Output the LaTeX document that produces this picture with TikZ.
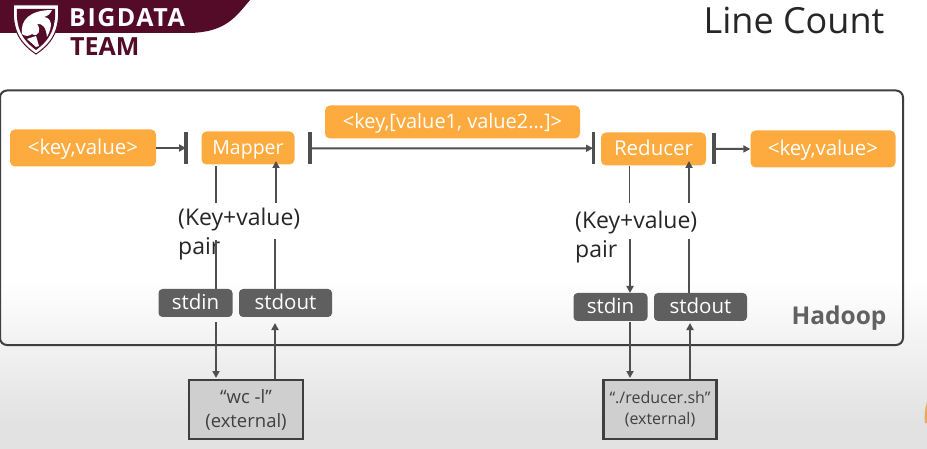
\documentclass[tikz,border=0pt]{standalone}
\usepackage{fontspec}
\setmainfont{Open Sans}
\usetikzlibrary{arrows.meta,calc}
\definecolor{maroon}{HTML}{540B28}
\definecolor{orng}{HTML}{FDAA3E}
\definecolor{dgray}{HTML}{5F5F5F}
\definecolor{lineg}{HTML}{4F4F4F}
\definecolor{frameg}{HTML}{3F3F3F}
\definecolor{bggray}{HTML}{E2E2E2}
\tikzset{
  orangebox/.style={fill=orng,rounded corners=5pt,text=white,inner sep=0pt,text height=15pt,text depth=1pt,font=\fontsize{20.5}{22}\selectfont},
  graybox/.style={fill=dgray,rounded corners=4pt,text=white,inner sep=0pt,text height=14pt,text depth=2pt,font=\fontsize{20.5}{22}\selectfont},
  extbox/.style={draw=frameg,line width=2.2pt,fill=black!19,inner sep=0pt,align=center,text=black!75,font=\fontsize{18.5}{24}\selectfont},
  conn/.style={draw=lineg,line width=2pt},
  arr/.style={conn,-{Triangle[length=7pt,width=7pt]}},
  barline/.style={draw=lineg,line width=3.5pt},
  lbl/.style={inner sep=0pt,align=left,anchor=north west,text=black!85,font=\fontsize{23}{29}\selectfont}
}
\begin{document}
\begin{tikzpicture}[x=1pt,y=-1pt]
\useasboundingbox (0,0) rectangle (927,449);
\fill[white] (0,0) rectangle (927,449);
\fill[top color=white,bottom color=bggray] (0,280) rectangle (927,423);
\fill[bggray] (0,423) rectangle (927,449);
\fill[orng!50!brown!80!white] (927,402) .. controls (925,408) and (924,415) .. (925,423) -- (927,423) -- cycle;
% banner
\fill[maroon] (0,0) -- (250,0) .. controls (235,18) and (225,32) .. (190,33) -- (0,33) -- cycle;
% shield
\filldraw[fill=white,draw=maroon,line width=1pt] (13.5,5) -- (58.5,5) .. controls (60,28) and (54,42) .. (36,54) .. controls (18,42) and (12,28) .. (13.5,5) -- cycle;
\fill[maroon] (17,9) -- (55,9) .. controls (56,27) and (51,39) .. (36,50) .. controls (21,39) and (16,27) .. (17,9) -- cycle;
\fill[white] (22,34) .. controls (20,20) and (30,10) .. (52,10) .. controls (50,14) and (48,16) .. (44,17) .. controls (52,18) and (53,26) .. (47,37) .. controls (46,28) and (43,23) .. (37,24) .. controls (42,30) and (38,38) .. (32,34) .. controls (29,36) and (26,37) .. cycle;
\fill[white] (27,39) -- (36,36) -- (39,46) -- (36,47) -- cycle;
\node[font=\bfseries\fontsize{25}{25}\selectfont,text=white,inner sep=0pt,anchor=west] (bigdata) at (69,17.5) {\addfontfeature{LetterSpace=6}BIGDATA};
\node[font=\bfseries\fontsize{25}{25}\selectfont,text=maroon,inner sep=0pt,anchor=west] (team) at (70,47) {TEAM};
\node[font=\fontsize{36}{36}\selectfont,text=black!85,inner sep=0pt] (title) at (794,20) {Line Count};
% Hadoop frame
\draw[frameg,line width=2pt,rounded corners=7pt] (0,90.5) rectangle (903,345);
\node[font=\bfseries\fontsize{24.5}{25}\selectfont,text=black!62,inner sep=0pt] (hadoop) at (839,318) {Hadoop};
% orange
\node[orangebox,minimum width=146pt,minimum height=37pt] (kv1) at (83,148) {<key,value>};
\node[orangebox,minimum width=93pt,minimum height=33pt,font=\fontsize{19.5}{22}\selectfont] (mapper) at (248,148) {Mapper};
\node[orangebox,minimum width=255pt,minimum height=33pt,font=\fontsize{20}{22}\selectfont] (kvl) at (452.5,122) {<key,[value1, value2…]>};
\node[orangebox,minimum width=105pt,minimum height=33pt] (reducer) at (653.5,149) {Reducer};
\node[orangebox,minimum width=145pt,minimum height=37pt] (kv2) at (823,149) {<key,value>};
% bars
\coordinate (b1t) at (186,132.5); \coordinate (b1b) at (186,164.5);
\coordinate (b2t) at (310,132.5); \coordinate (b2b) at (310,164.5);
\coordinate (b3t) at (593,132); \coordinate (b3b) at (593,164.5);
\coordinate (b4t) at (714,133); \coordinate (b4b) at (714,164.5);
\draw[barline] (b1t) -- (b1b);
\draw[barline] (b2t) -- (b2b);
\draw[line width=3pt,draw=lineg] (b3t) -- (b3b);
\draw[barline] (b4t) -- (b4b);
\draw[arr] (kv1.east) -- (b1t |- kv1.east);
\draw[arr] ($(b2t)!.5!(b2b)$) -- ($(b3t)!.5!(b3b)$);
\draw[arr] ($(b4t)!.5!(b4b)$) -- (kv2.west);
% lower boxes
\node[graybox,minimum width=74pt,minimum height=28pt] (in1) at (195.5,303) {stdin};
\node[graybox,minimum width=93pt,minimum height=28pt] (out1) at (285.5,303) {stdout};
\node[graybox,minimum width=74pt,minimum height=28pt] (in2) at (610.5,307) {stdin};
\node[graybox,minimum width=93pt,minimum height=28pt] (out2) at (700.5,307) {stdout};
\node[extbox,minimum width=114pt,minimum height=59pt] (ext1) at (246,409.5) {“wc -l”\\(external)};
\node[extbox,minimum width=113pt,minimum height=59pt,font=\fontsize{16}{21}\selectfont] (ext2) at (660,409.5) {“./reducer.sh”\\(external)};
% labels
\node[lbl] (lab1) at (178,208) {(Key+value)\\pair};
\node[lbl] (lab2) at (575,210.5) {(Key+value)\\pair};
% connectors mapper
\coordinate (m1a) at (216,166); \coordinate (m1b) at (216,203);
\coordinate (m1c) at (216,240); \coordinate (m1d) at (216,289);
\coordinate (m2a) at (276,203); \coordinate (m2b) at (275,239); \coordinate (m2c) at (275,289);
\draw[conn] (m1a) -- (m1b);
\draw[conn] (m1c) -- (m1d);
\draw[arr] (m2a) -- (276,161);
\draw[conn] (m2b) -- (m2c);
\draw[arr] (216,322) -- (216,378);
\draw[arr] (275,379) -- (275,323);
% connectors reducer
\coordinate (r1a) at (629.5,166); \coordinate (r1b) at (629.5,203);
\coordinate (r2a) at (689,203); \coordinate (r2b) at (689,239); \coordinate (r2c) at (689,293);
\draw[line width=1.2pt,draw=lineg] (r1a) -- (r1b);
\draw[arr] (630,239) -- (630,293);
\draw[arr] (r2a) -- (689,161);
\draw[conn] (r2b) -- (r2c);
\draw[arr] (630,322) -- (630,378);
\draw[arr] (690,379) -- (690,323);
\end{tikzpicture}
\end{document}
